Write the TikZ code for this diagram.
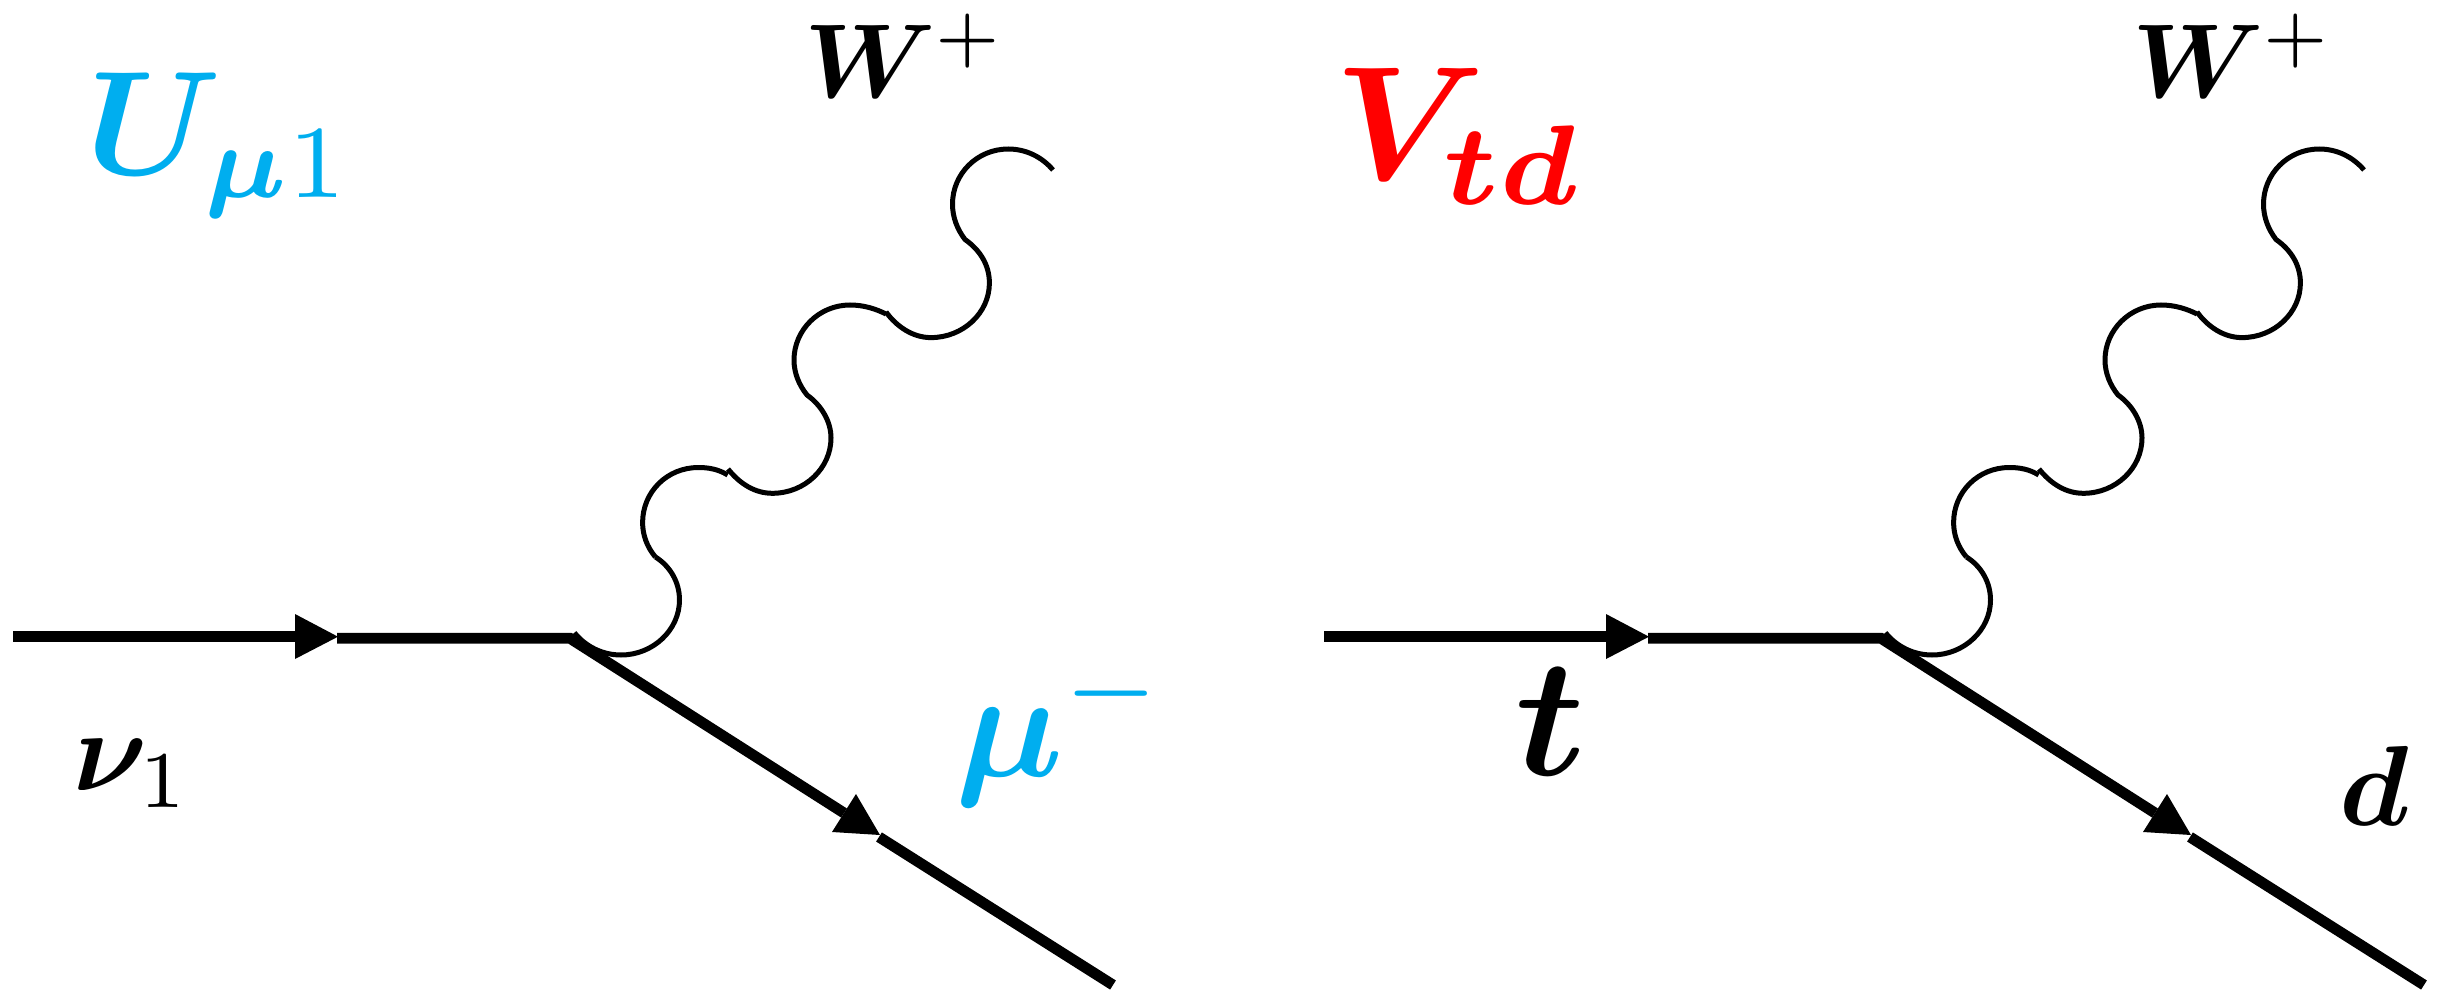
\documentclass[tikz,border=0pt]{standalone}
\usepackage{amsmath}
\definecolor{lep}{HTML}{00AEEF}
\DeclareMathAlphabet{\mathbit}{OML}{cmm}{b}{it}
\DeclareSymbolFont{boldlet}{OML}{cmm}{b}{it}
\DeclareMathSymbol{\bmu}{\mathord}{boldlet}{"16}
\DeclareMathSymbol{\bnu}{\mathord}{boldlet}{"17}
\tikzset{
  fermion/.style={line width=5.4pt},
  head/.style={fill=black,draw=none},
  wiggle/.style={line width=2.5pt},
  lab/.style={inner sep=0pt,outer sep=0pt,anchor=base west}
}
\newcommand{\wplus}{$\mathbit{W}\raisebox{3.7pt}{$\scriptstyle+$}$}
\newcommand{\diagram}[2]{%
 \begin{scope}[xshift=#1*0.5pt]
  \coordinate (#2a) at (13,636.7);
  \coordinate (#2b) at (295,636.7);
  \coordinate (#2c) at (338,636.7);
  \coordinate (#2d) at (337,638.3);
  \coordinate (#2v) at (570,638.3);
  \coordinate (#2e) at (844,813);
  \coordinate (#2f) at (880,835);
  \coordinate (#2g) at (879,837);
  \coordinate (#2h) at (1113,985);
  \draw[fermion] (#2a) -- (#2b);
  \fill[head] (295,614) -- (#2c) -- (295,659) -- cycle;
  \draw[fermion] (#2d) -- (#2v) -- (#2e);
  \fill[head] (856,794) -- (#2f) -- (832,832) -- cycle;
  \draw[fermion] (#2g) -- (#2h);
  \draw[wiggle] (574.4,632.7)
    .. controls (586,647) and (603,655) .. (621,655)
    .. controls (653,655) and (679.5,630) .. (679.5,600)
    .. controls (679.5,582) and (670,566) .. (655.4,557);
  \draw[wiggle] (655.4,557)
    .. controls (647,547) and (642.6,535) .. (642.6,522.6)
    .. controls (642.6,492) and (667,467.5) .. (698.4,467.5)
    .. controls (708,467.5) and (718,469) .. (727.7,475);
  \draw[wiggle] (728,469)
    .. controls (740,484) and (755,493.3) .. (772.4,493.3)
    .. controls (805,493.3) and (831,468) .. (831,438)
    .. controls (831,421) and (821,405) .. (807,395)
    .. controls (799,385) and (794,373) .. (794,360)
    .. controls (794,330) and (819,305) .. (850,305)
    .. controls (864,305) and (876,309) .. (886,314);
  \draw[wiggle] (886,312)
    .. controls (897,327) and (913,337.6) .. (931,337.6)
    .. controls (963,337.6) and (989.4,313) .. (989.4,283)
    .. controls (989.4,265) and (980,250) .. (965,239.5)
    .. controls (957,229) and (952.5,217) .. (952.5,204)
    .. controls (952.5,174) and (977,149) .. (1008.3,149)
    .. controls (1026,149) and (1042,157) .. (1053,170);
 \end{scope}}
\begin{document}
\begin{tikzpicture}[x=0.5pt,y=-0.5pt]
\useasboundingbox (0,0) rectangle (2443,990);
\fill[white] (0,0) rectangle (2443,990);
\diagram{0}{l}
\diagram{1311}{r}
\node[lab,text=lep,scale=7.4] (u) at (86,175) {$\mathbit{U}_{\bmu 1}$};
\node[lab,scale=5.25] (w1) at (804,98) {\wplus};
\node[lab,scale=5.25] (w2) at (2132,98) {\wplus};
\node[lab,scale=5.75] (nu) at (73,790) {$\bnu_{1}$};
\node[lab,text=lep,scale=7.65] (mu) at (955,776) {$\bmu^{-}$};
\node[text=red,lab,scale=8.1] (v) at (1334,180) {$\mathbit{V}_{\mathbit{td}}$};
\node[lab,scale=8.45] (t) at (1515,775) {$\mathbit{t}$};
\node[lab,scale=5.7] (d) at (2339,825) {$\mathbit{d}$};
\end{tikzpicture}
\end{document}
